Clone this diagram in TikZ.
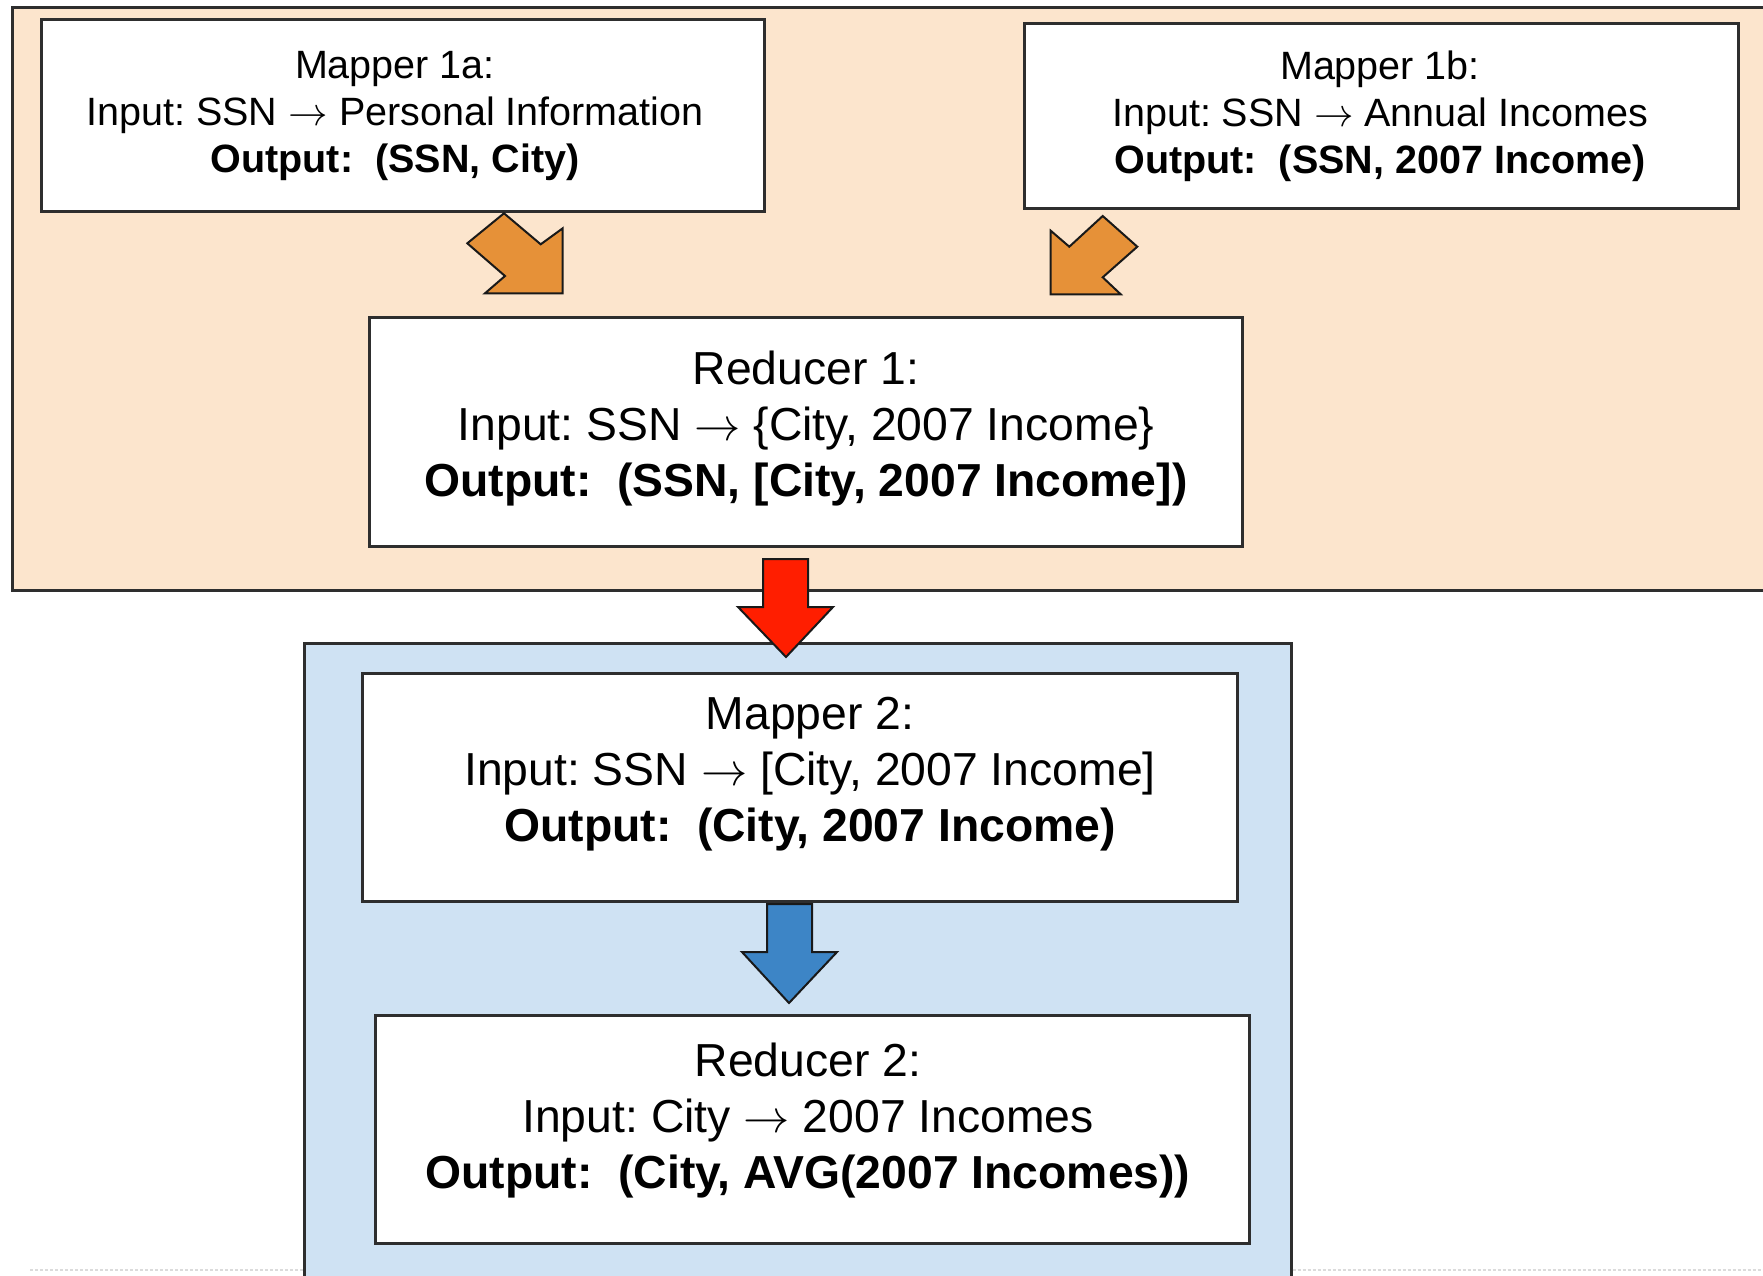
\documentclass[tikz,border=0pt]{standalone}
\usepackage{fix-cm}
\usepackage{fontspec}
\setmainfont{Liberation Sans}
\frenchspacing
\definecolor{orangebg}{HTML}{FCE5CD}
\definecolor{bluebg}{HTML}{CFE2F3}
\definecolor{orangearrow}{HTML}{E69138}
\definecolor{redarrow}{HTML}{FF1E00}
\definecolor{bluearrow}{HTML}{3D85C6}
\definecolor{bordercol}{HTML}{2E2E2E}
\newcommand{\myto}{$\rightarrow$}
\begin{document}
\begin{tikzpicture}[x=1pt,y=-1pt,
  container/.style={draw=bordercol, line width=2.5pt, inner sep=0pt, anchor=north west},
  box/.style={draw=bordercol, line width=2.5pt, fill=white, inner sep=0pt, anchor=north west},
  txtA/.style={align=center, font=\fontsize{39.5}{47}\selectfont\frenchspacing, inner sep=0pt},
  txtB/.style={align=center, font=\fontsize{46.3}{56}\selectfont\frenchspacing, inner sep=0pt},
  blockarrow/.style={draw=black!90, line width=2pt, line join=miter}]
\clip (0,0) rectangle (1763,1275);
\fill[white] (0,0) rectangle (1763,1275);

% containers
\node[container, fill=orangebg, minimum width=1800pt, minimum height=583pt] (stage1) at (11,6) {};
\node[container, fill=bluebg, minimum width=987pt, minimum height=680pt] (stage2) at (303,642) {};

% faint page line
\coordinate (pl1) at (30,1270);
\coordinate (pl2) at (1763,1270);
\draw[black!14, line width=1.2pt, dash pattern=on 3pt off 2pt] (pl1) -- (stage2.west |- pl1);
\draw[black!14, line width=1.2pt, dash pattern=on 3pt off 2pt] (stage2.east |- pl2) -- (pl2);

% boxes
\node[box, minimum width=723pt, minimum height=192pt] (m1a) at (40,18) {};
\node[box, minimum width=714pt, minimum height=185pt] (m1b) at (1023,22) {};
\node[box, minimum width=873pt, minimum height=229pt] (r1) at (368,316) {};
\node[box, minimum width=875pt, minimum height=228pt] (m2) at (361,672) {};
\node[box, minimum width=874pt, minimum height=228pt] (r2) at (374,1014) {};

% block arrows
\path[blockarrow, fill=orangearrow] (504,213.3) -- (467.3,243.3) -- (505,276) -- (485,293.3)
  -- (562.7,293.3) -- (562.7,228.3) -- (540.7,244.3) -- cycle;
\path[blockarrow, fill=orangearrow] (1102.7,216) -- (1137.3,246.7) -- (1102.7,277.3) -- (1120.7,294.3)
  -- (1050.7,294.3) -- (1050.7,230.7) -- (1069.3,246.7) -- cycle;
\path[blockarrow, fill=redarrow] (763,559) -- (808,559) -- (808,607) -- (833,607) -- (786,657)
  -- (738,607) -- (763,607) -- cycle;
\path[blockarrow, fill=bluearrow] (767,904) -- (812,904) -- (812,952) -- (837,952) -- (789,1003)
  -- (742,952) -- (767,952) -- cycle;

% texts
\node[txtA] (m1a-t) at (395,116) {Mapper 1a:\\Input: SSN \myto{} Personal Information\\\textbf{Output:\ \ (SSN, City)}};
\node[txtA] (m1b-t) at (1380,116) {Mapper 1b:\\Input: SSN \myto{} Annual Incomes\\\textbf{Output:\ \ (SSN, 2007 Income)}};
\node[txtB] (r1-t) at (806,429) {Reducer 1:\\Input: SSN \myto{} \{City, 2007 Income\}\\\textbf{Output:\ \ (SSN, [City, 2007 Income])}};
\node[txtB] (m2-t) at (810,774) {Mapper 2:\\Input: SSN \myto{} [City, 2007 Income]\\\textbf{Output:\ \ (City, 2007 Income)}};
\node[txtB] (r2-t) at (808,1121) {Reducer 2:\\Input: City \myto{} 2007 Incomes\\\textbf{Output:\ \ (City, AVG(2007 Incomes))}};
\end{tikzpicture}
\end{document}
